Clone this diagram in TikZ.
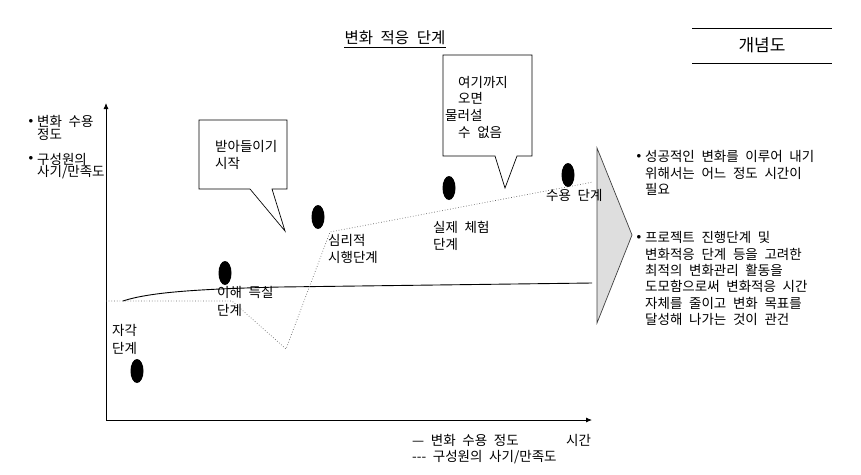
\documentclass[tikz,border=0pt]{standalone}
\usepackage{fontspec}
\setmainfont{Noto Sans CJK KR}[WordSpace=2.2]
\usetikzlibrary{arrows.meta,positioning,shapes.geometric}
\newcommand\bul{\llap{\raisebox{3.2pt}{$\scriptstyle\bullet$}\hspace{4pt}}}

\begin{document}
\begin{tikzpicture}[
    x=1pt, y=-1pt,
    txt/.style={anchor=west, inner sep=0pt, align=left,
      font=\fontsize{13.5}{16.3}\selectfont},
    stage/.style={txt, font=\fontsize{13.5}{17.5}\selectfont},
    ylabel/.style={txt, font=\fontsize{13.5}{12.5}\selectfont},
    dot/.style={ellipse, fill=black, inner sep=0pt,
      minimum width=13pt, minimum height=24pt},
    axis/.style={-{Latex[length=6pt, width=5pt]}, line width=0.8pt},
    callout/.style={draw, fill=white, line width=0.7pt},
    accept/.style={line width=0.9pt},
    morale/.style={dotted, line width=0.7pt, black!60}
  ]
  \useasboundingbox (0,0) rectangle (861,474);

  \node[txt, anchor=center, font=\fontsize{15.5}{18}\selectfont] (title) at (395,38) {변화 적응 단계};
  \draw[line width=0.6pt] ([yshift=-2pt]title.south west) -- ([yshift=-2pt]title.south east);

  \node[txt, anchor=center, font=\fontsize{17}{20}\selectfont] (concept) at (762,45) {개념도};
  \draw[line width=0.8pt] (692,28) -- (832,28);
  \draw[line width=0.8pt] (692,63) -- (832,63);

  \node[ylabel] (ylab1) at (37,128) {\bul 변화 수용\\정도};
  \node[ylabel] (ylab2) at (37,166) {\bul 구성원의\\사기/만족도};

  \coordinate (origin) at (106,420);
  \coordinate (ytop) at (106,103);
  \coordinate (xend) at (592,420);
  \draw[axis] (origin) -- (ytop);
  \draw[axis] (origin) -- (xend);

  \draw[fill=black!13, draw=black!75, line width=0.7pt]
    (597,148) -- (632,235) -- (597,323) -- cycle;

  \draw[accept] (123,301) .. controls (150,292) and (200,289) .. (280,287) -- (592,283);
  \draw[morale] (106,301) -- (232,301) -- (286,349) -- (330,232) -- (593,182);

  \node[dot] (aware) at (137,371) {};
  \node[dot] (understand) at (225,273) {};
  \node[dot] (trial) at (318,217) {};
  \node[dot] (experience) at (449,188) {};
  \node[dot] (adopt) at (568,175) {};

  \node[stage] (awarelbl) at (112,339.5) {자각\\단계};
  \node[stage] (understandlbl) at (217,301.5) {이해 득실\\단계};
  \node[stage] (triallbl) at (328,249) {심리적\\시행단계};
  \node[stage] (experiencelbl) at (433,236) {실제 체험\\단계};
  \node[stage] (adoptlbl) at (546,195) {수용 단계};

  \draw[callout] (199,120) -- (287,120) -- (287,189) -- (272,189) -- (285,231)
    -- (250,189) -- (199,189) -- cycle;
  \node[txt] (start) at (215,155) {받아들이기\\시작};

  \draw[callout] (443,55) -- (532,55) -- (532,156) -- (517,156) -- (505,188)
    -- (495,156) -- (443,156) -- cycle;
  \node[txt, font=\fontsize{13.5}{16.7}\selectfont] (noreturn) at (445,107)
    {\hspace*{13pt}여기까지\\\hspace*{13pt}오면\\물러설\\\hspace*{13pt}수 없음};

  \node[txt] (note1) at (645,173) {\bul 성공적인 변화를 이루어 내기\\위해서는 어느 정도 시간이\\필요};
  \node[txt] (note2) at (645,278.5) {\bul 프로젝트 진행단계 및\\변화적응 단계 등을 고려한\\최적의 변화관리 활동을\\도모함으로써 변화적응 시간\\자체를 줄이고 변화 목표를\\달성해 나가는 것이 관건};

  \node[txt] (leg1) at (412,440) {— 변화 수용 정도};
  \node[txt] (time) at (566,440) {시간};
  \node[txt] (leg2) at (412,457) {-{}-{}- 구성원의 사기/만족도};
\end{tikzpicture}
\end{document}
